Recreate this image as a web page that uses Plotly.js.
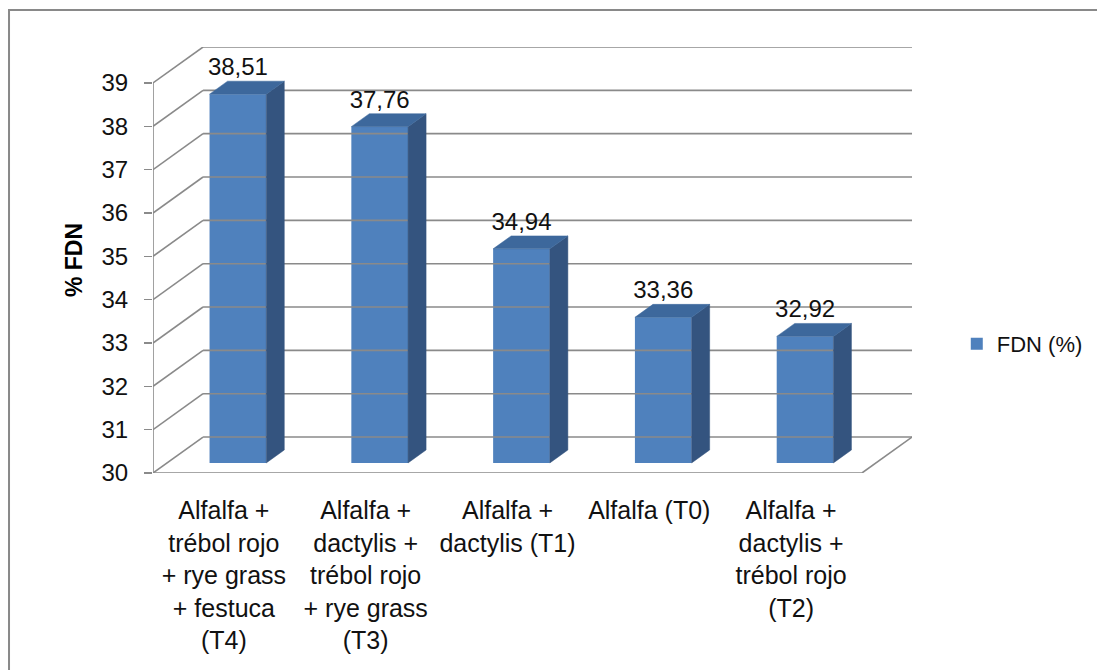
<!DOCTYPE html>
<html>
<head>
<meta charset="utf-8">
<script src="https://cdn.plot.ly/plotly-3.0.1.min.js"></script>
<style>html,body{margin:0;padding:0;background:#fff;}#chart{width:1097px;height:670px;}</style>
</head>
<body>
<div id="chart"></div>
<script>
// ---- data ----
const categories = [
  "Alfalfa +<br>trébol rojo<br>+ rye grass<br>+ festuca<br>(T4)",
  "Alfalfa +<br>dactylis +<br>trébol rojo<br>+ rye grass<br>(T3)",
  "Alfalfa +<br>dactylis (T1)",
  "Alfalfa (T0)",
  "Alfalfa +<br>dactylis +<br>trébol rojo<br>(T2)"
];
const fdnValues = [38.51, 37.76, 34.94, 33.36, 32.92];
const seriesName = "FDN (%)";
const yTicks = [30, 31, 32, 33, 34, 35, 36, 37, 38, 39];
const yTitle = "% FDN";

// ---- 3D projection settings (axis units) ----
const DEPTH_X = 0.353;   // wall depth along x
const DEPTH_Y = 0.83;    // wall depth along y
const BAR_FRONT = 0.28;  // fraction of depth where bar front face sits
const BAR_DEPTH = 0.36;  // fraction of depth of the bar itself
const BAR_W = 0.40;
const yMin = yTicks[0], yMax = yTicks[yTicks.length - 1];
const n = categories.length;
const xIdx = categories.map((_, i) => i);
const xLeft = -0.5, xRight = n - 0.5;

const gridColor = "#8a8a8a";
const font = "Liberation Sans, Arial, sans-serif";

// wall + floor lines
const gx = [], gy = [];
function seg(x0, y0, x1, y1) { gx.push(x0, x1, null); gy.push(y0, y1, null); }
yTicks.forEach(v => {
  seg(xLeft + DEPTH_X, v + DEPTH_Y, xRight + DEPTH_X, v + DEPTH_Y); // back wall
  seg(xLeft, v, xLeft + DEPTH_X, v + DEPTH_Y);                       // side wall
});
seg(xLeft, yMin, xRight, yMin);                                       // floor front
seg(xRight, yMin, xRight + DEPTH_X, yMin + DEPTH_Y);                  // floor right
const axisX = [xLeft, xLeft], axisY = [yMin, yMax];

const fx = BAR_FRONT * DEPTH_X, fy = BAR_FRONT * DEPTH_Y;
const sdx = BAR_DEPTH * DEPTH_X, sdy = BAR_DEPTH * DEPTH_Y;
const base = yMin + fy;
const barX = xIdx.map(i => i + fx);

const sideX = [], sideY = [], topX = [], topY = [];
fdnValues.forEach((v, i) => {
  const xl = barX[i] - BAR_W / 2, xr = barX[i] + BAR_W / 2, t = v + fy;
  sideX.push(xr, xr + sdx, xr + sdx, xr, xr, null);
  sideY.push(base, base + sdy, t + sdy, t, base, null);
  topX.push(xl, xr, xr + sdx, xl + sdx, xl, null);
  topY.push(t, t, t + sdy, t + sdy, t, null);
});
const labelText = fdnValues.map(v => v.toFixed(2).replace(".", ","));
const labelY = fdnValues.map(v => v + fy + sdy);

const traces = [
  {type: "scatter", mode: "lines", x: gx, y: gy, line: {color: gridColor, width: 1.6},
   hoverinfo: "skip", showlegend: false},
  {type: "scatter", mode: "lines", x: axisX, y: axisY, line: {color: gridColor, width: 1.6},
   hoverinfo: "skip", showlegend: false},
  {type: "bar", name: seriesName, x: barX, y: fdnValues.map(v => v - yMin), base: base,
   width: BAR_W, marker: {color: "#4F81BD", line: {width: 0}}, showlegend: true},
  {type: "scatter", mode: "lines", x: sideX, y: sideY, fill: "toself", fillcolor: "#34547F",
   line: {color: "#34547F", width: 0.5}, hoverinfo: "skip", showlegend: false},
  {type: "scatter", mode: "lines", x: topX, y: topY, fill: "toself", fillcolor: "#3D689C",
   line: {color: "#3D689C", width: 0.5}, hoverinfo: "skip", showlegend: false},
  {type: "scatter", mode: "text", x: barX, y: labelY, text: labelText, textposition: "top center",
   textfont: {family: font, size: 24, color: "#111"}, hoverinfo: "skip", showlegend: false}
];

const layout = {
  width: 1097, height: 670, autosize: false,
  margin: {l: 153, r: 185, t: 47, b: 197, pad: 0, autoexpand: false},
  paper_bgcolor: "#fff", plot_bgcolor: "rgba(0,0,0,0)",
  font: {family: font, size: 24, color: "#111"},
  xaxis: {range: [xLeft, xRight + DEPTH_X], tickvals: xIdx, ticktext: categories,
          showgrid: false, zeroline: false, showline: false, ticks: "", ticklabelstandoff: 20,
          tickfont: {family: font, size: 25, color: "#111"}, fixedrange: true},
  yaxis: {range: [yMin, yMax + DEPTH_Y], tickvals: yTicks, showgrid: false, zeroline: false,
          showline: false, ticks: "outside", ticklen: 8, tickwidth: 1.6, tickcolor: gridColor,
          ticklabelstandoff: 11, tickfont: {family: font, size: 24, color: "#111"},
          title: {text: "<b>" + yTitle + "</b>", font: {family: font, size: 23, color: "#000"}, standoff: 12},
          fixedrange: true},
  showlegend: true,
  legend: {x: 1.059, xanchor: "left", y: 0.303, yanchor: "middle", bgcolor: "rgba(0,0,0,0)",
           font: {family: font, size: 22, color: "#111"}},
  shapes: [{type: "rect", xref: "paper", yref: "paper", x0: -0.1897, x1: 2, y0: -1, y1: 1.0869,
            line: {color: "#898989", width: 2}, fillcolor: "rgba(0,0,0,0)", layer: "below"}]
};

Plotly.newPlot("chart", traces, layout, {displayModeBar: false, staticPlot: true});
</script>
</body>
</html>
